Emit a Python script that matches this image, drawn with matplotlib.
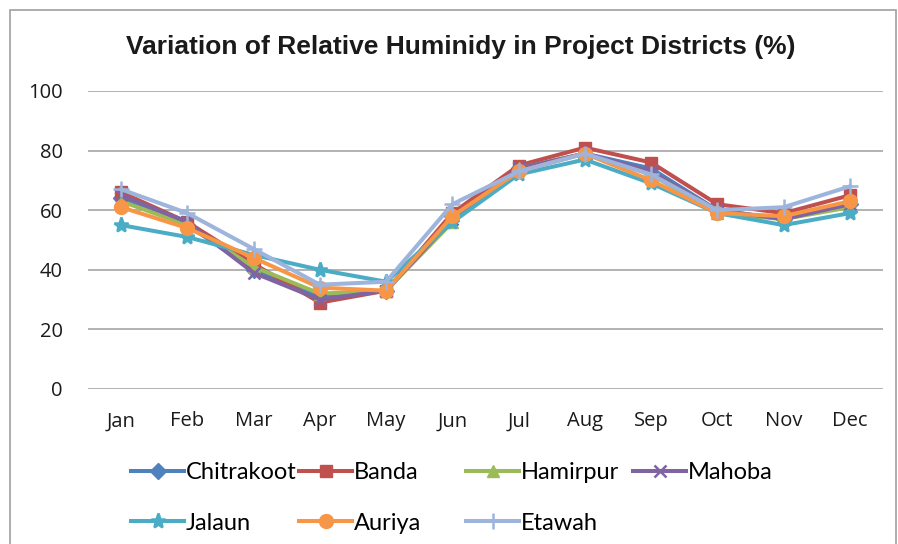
import matplotlib
matplotlib.use("Agg")
import matplotlib.pyplot as plt
from matplotlib.patches import Rectangle

months = ["Jan", "Feb", "Mar", "Apr", "May", "Jun", "Jul", "Aug", "Sep", "Oct", "Nov", "Dec"]
chitrakoot = [64, 55, 40, 31, 33, 58, 74, 79, 74, 60, 57, 62]
banda      = [66, 56, 42, 29, 33, 59, 75, 81, 76, 62, 59, 65]
hamirpur   = [63, 55, 41, 32, 33, 56, 74, 79, 72, 59, 57, 61]
mahoba     = [65, 56, 39, 30, 33, 57, 74, 79, 73, 60, 57, 62]
jalaun     = [55, 51, 45, 40, 36, 56, 72, 77, 69, 59, 55, 59]
auriya     = [61, 54, 44, 34, 33, 58, 73, 79, 70, 59, 58, 63]
etawah     = [67, 59, 47, 35, 36, 62, 73, 79, 72, 60, 61, 68]

names = ["Chitrakoot", "Banda", "Hamirpur", "Mahoba", "Jalaun", "Auriya", "Etawah"]
series = [chitrakoot, banda, hamirpur, mahoba, jalaun, auriya, etawah]
colors = ["#4F81BD", "#C0504D", "#9BBB59", "#8064A2", "#4BACC6", "#F79646", "#9DB4DD"]
markers = ["D", "s", "^", "x", "*", "o", "+"]
msizes = [8, 9, 9, 9, 11, 10, 12]

fig = plt.figure(figsize=(8.98, 5.44), dpi=100)
fig.patches.append(Rectangle((10/898, -0.01), 886/898, 1 - 10/544 + 0.01, transform=fig.transFigure,
                             fill=False, edgecolor="#A0A0A0", linewidth=1.2))
ax = fig.add_axes([88/898, 155/544, 795/898, 298/544])

x = list(range(len(months)))
for name, vals, c, m, ms in zip(names, series, colors, markers, msizes):
    ax.plot(x, vals, color=c, linewidth=2.9, marker=m, markersize=ms,
            markeredgecolor=c, markeredgewidth=1.8 if m in ("x", "*", "+") else 1.0,
            label=name)

ax.set_ylim(0, 100)
ax.set_xlim(-0.5, 11.5)
ax.set_yticks([0, 20, 40, 60, 80, 100])
ax.set_xticks(x)
ax.set_xticklabels(months)
ax.grid(axis="y", color="#A6A6A6", linewidth=1.2)
ax.set_axisbelow(True)
for s in ax.spines.values():
    s.set_visible(False)
ax.tick_params(axis="both", length=0, labelsize=14.5, colors="#1a1a1a")
ax.tick_params(axis="y", pad=18)
ax.tick_params(axis="x", pad=16)
for lab in ax.get_xticklabels() + ax.get_yticklabels():
    lab.set_fontfamily("Open Sans")

fig.text(461/898, 1 - 47/544, "Variation of Relative Huminidy in Project Districts (%)",
         ha="center", va="center", fontsize=19, fontweight="bold", family="Liberation Sans",
         color="#1a1a1a")

handles, labels = ax.get_legend_handles_labels()
# Excel-style legend: 4 fixed-width columns, filled row by row
col_x = [131, 299, 466, 633]
for col in range(4):
    idx = [i for i in (col, col + 4) if i < len(handles)]
    fig.legend([handles[i] for i in idx], [labels[i] for i in idx],
               loc="upper left", bbox_to_anchor=(col_x[col]/898, 1 - 462/544),
               ncol=1, frameon=False, prop={"family": "Lato", "size": 17},
               handlelength=2.25, handletextpad=0.08, labelspacing=1.25,
               borderaxespad=0, borderpad=0)

fig.savefig("out.png", dpi=100)
